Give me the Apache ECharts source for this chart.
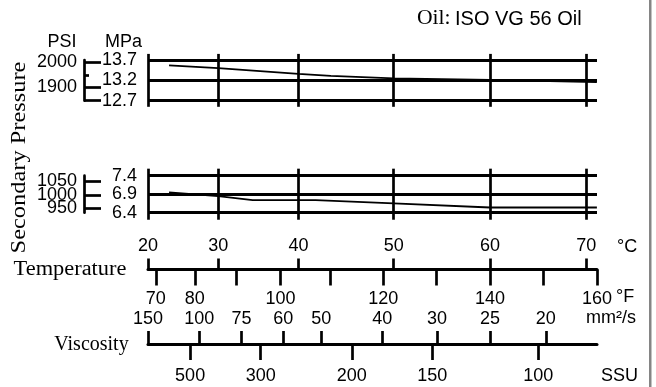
<!DOCTYPE html>
<html>
<head>
<meta charset="utf-8">
<script src="https://cdn.jsdelivr.net/npm/echarts@6/dist/echarts.min.js"></script>
<style>
html,body{margin:0;padding:0;background:#fff;}
#c{width:656px;height:387px;}
</style>
</head>
<body>
<div id="c"></div>
<script>
// ---------------- DATA ----------------
const celsiusTicks = [20, 30, 40, 50, 60, 70];
const fahrenheitTicks = [70, 80, 90, 100, 110, 120, 130, 140, 150, 160];
const fahrenheitLabels = [70, 80, 100, 120, 140, 160];
const viscosityMm2 = [150, 100, 75, 60, 50, 40, 30, 25, 20];
const viscosityMm2AtC = [20, 27.3, 32.9, 38.1, 42.4, 48.8, 54.5, 60, 65.8];
const viscositySSU = [500, 300, 200, 150, 100];
const viscositySSUAtC = [26.0, 35.3, 45.6, 54.0, 65.0];

const highTempC = [23, 30, 40, 43.4, 50, 60, 71.1];
const highMPa = [13.57, 13.50, 13.36, 13.31, 13.25, 13.21, 13.16];
const lowTempC = [23, 30, 34.3, 41.8, 50, 60, 71.1];
const lowMPa = [6.95, 6.85, 6.74, 6.74, 6.65, 6.54, 6.54];

const highMPaTicks = [12.7, 13.2, 13.7];
const lowMPaTicks = [6.4, 6.9, 7.4];
const highPsiTicks = [1850, 1900, 2000];
const highPsiMinor = [1950];
const highPsiLabels = [1900, 2000];
const lowPsiTicks = [950, 1000, 1050];
const lowPsiLabelsOuter = [950, 1050];
const lowPsiLabelsInner = [1000];

// printed temperature scale of the chart (non-linear): axis units for each °C tick
const celsiusScaleStops = [0, 70, 150, 245, 341, 437];

// ---------------- HELPERS ----------------
function toX(c) {
  const t = celsiusTicks, s = celsiusScaleStops;
  let i = 0;
  while (i < t.length - 2 && c > t[i + 1]) i++;
  return s[i] + (c - t[i]) * (s[i + 1] - s[i]) / (t[i + 1] - t[i]);
}
const f2c = f => (f - 32) / 1.8;
const xMin = toX(celsiusTicks[0]);
const xMax = toX(f2c(fahrenheitTicks[fahrenheitTicks.length - 1]));

function lookupFormatter(pairs) {
  return function (v) {
    let best = '', d = Infinity;
    pairs.forEach(p => { const dd = Math.abs(p[0] - v); if (dd < d) { d = dd; best = p[1]; } });
    return d < 1e-6 ? String(best) : '';
  };
}

const SANS = 'Liberation Sans, Arial, sans-serif';
const SERIF = 'Liberation Serif, Times New Roman, serif';
const FS = 18;

const cPos = celsiusTicks.map(toX);
const fPos = fahrenheitTicks.map(f => toX(f2c(f)));
const fLabPos = fahrenheitLabels.map(f => toX(f2c(f)));
const vPos = viscosityMm2AtC.map(toX);
const sPos = viscositySSUAtC.map(toX);

function frameLines(mpaTicks, extend) {
  const lo = mpaTicks[0], hi = mpaTicks[mpaTicks.length - 1];
  const data = [];
  mpaTicks.forEach(m => data.push({ coords: [[xMin, m], [xMax, m]], lineStyle: { width: 3 } }));
  cPos.forEach(x => data.push({ coords: [[x, hi + extend], [x, lo - extend]], lineStyle: { width: 2.7 } }));
  return data;
}

const hiddenX = (gi) => ({
  type: 'value', gridIndex: gi, min: xMin, max: xMax,
  axisLine: { show: false }, axisTick: { show: false }, axisLabel: { show: false }, splitLine: { show: false }
});
const hiddenY = (gi) => ({
  type: 'value', gridIndex: gi, min: 0, max: 1,
  axisLine: { show: false }, axisTick: { show: false }, axisLabel: { show: false }, splitLine: { show: false }
});

const labelStyle = { color: '#000', fontFamily: SANS, fontSize: FS, hideOverlap: false, showMinLabel: true, showMaxLabel: true };

const option = {
  animation: false,
  backgroundColor: '#fff',
  grid: [
    { left: 148, top: 60, width: 449, height: 40.7 },
    { left: 148, top: 175.7, width: 449, height: 37 },
    { left: 148, top: 268.5, width: 449, height: 1 },
    { left: 148, top: 343, width: 449, height: 1 }
  ],
  xAxis: [
    hiddenX(0),
    hiddenX(1),
    { // °C
      type: 'value', gridIndex: 2, position: 'top', min: xMin, max: xMax,
      axisLine: { show: true, lineStyle: { color: '#000', width: 3 } },
      axisTick: { show: true, inside: false, length: 11, customValues: cPos, lineStyle: { color: '#000', width: 2.7 } },
      axisLabel: { show: true, margin: 13, customValues: cPos, ...labelStyle,
        formatter: lookupFormatter(cPos.map((p, i) => [p, celsiusTicks[i]])) },
      splitLine: { show: false }
    },
    { // °F
      type: 'value', gridIndex: 2, position: 'bottom', min: xMin, max: xMax,
      axisLine: { show: false },
      axisTick: { show: true, inside: false, length: 16, customValues: fPos, lineStyle: { color: '#000', width: 2.7 } },
      axisLabel: { show: true, margin: 21, customValues: fLabPos, ...labelStyle,
        formatter: lookupFormatter(fLabPos.map((p, i) => [p, fahrenheitLabels[i]])) },
      splitLine: { show: false }
    },
    { // mm2/s
      type: 'value', gridIndex: 3, position: 'top', min: xMin, max: xMax,
      axisLine: { show: true, lineStyle: { color: '#000', width: 3 } },
      axisTick: { show: true, inside: false, length: 13, customValues: vPos, lineStyle: { color: '#000', width: 2.7 } },
      axisLabel: { show: true, margin: 15, customValues: vPos, ...labelStyle,
        formatter: lookupFormatter(vPos.map((p, i) => [p, viscosityMm2[i]])) },
      splitLine: { show: false }
    },
    { // SSU
      type: 'value', gridIndex: 3, position: 'bottom', min: xMin, max: xMax,
      axisLine: { show: false },
      axisTick: { show: true, inside: false, length: 16, customValues: sPos, lineStyle: { color: '#000', width: 2.7 } },
      axisLabel: { show: true, margin: 23, customValues: sPos, ...labelStyle,
        formatter: lookupFormatter(sPos.map((p, i) => [p, viscositySSU[i]])) },
      splitLine: { show: false }
    }
  ],
  yAxis: [
    { // 0 high MPa
      type: 'value', gridIndex: 0, min: 12.7, max: 13.7, position: 'left',
      axisLine: { show: false }, axisTick: { show: false }, splitLine: { show: false },
      axisLabel: { show: true, margin: 11, customValues: highMPaTicks, ...labelStyle, padding: [7, 0, 0, 0],
        formatter: v => v.toFixed(1) }
    },
    { // 1 high PSI
      type: 'value', gridIndex: 0, min: 1847, max: 2010, position: 'left', offset: 64,
      axisLine: { show: true, lineStyle: { color: '#000', width: 2.7 } },
      axisTick: { show: true, inside: true, length: 17, customValues: highPsiTicks, lineStyle: { color: '#000', width: 2.7 } },
      splitLine: { show: false },
      axisLabel: { show: true, margin: 7, customValues: highPsiLabels, ...labelStyle, padding: [4, 0, 0, 0],
        formatter: v => String(Math.round(v)) }
    },
    { // 2 high PSI minor
      type: 'value', gridIndex: 0, min: 1847, max: 2010, position: 'left', offset: 64,
      axisLine: { show: false },
      axisTick: { show: true, inside: true, length: 5, customValues: highPsiMinor, lineStyle: { color: '#000', width: 2.7 } },
      splitLine: { show: false }, axisLabel: { show: false }
    },
    { // 3 low MPa
      type: 'value', gridIndex: 1, min: 6.4, max: 7.4, position: 'left',
      axisLine: { show: false }, axisTick: { show: false }, splitLine: { show: false },
      axisLabel: { show: true, margin: 11, customValues: lowMPaTicks, ...labelStyle, padding: [8, 0, 0, 0],
        formatter: v => v.toFixed(1) }
    },
    { // 4 low PSI (line, ticks, outer labels)
      type: 'value', gridIndex: 1, min: 934.8, max: 1069.3, position: 'left', offset: 64,
      axisLine: { show: true, lineStyle: { color: '#000', width: 2.7 } },
      axisTick: { show: true, inside: true, length: 17, customValues: lowPsiTicks, lineStyle: { color: '#000', width: 2.7 } },
      splitLine: { show: false },
      axisLabel: { show: true, margin: 7, customValues: lowPsiLabelsOuter, ...labelStyle,
        formatter: v => String(Math.round(v)) }
    },
    { // 5 low PSI (middle label)
      type: 'value', gridIndex: 1, min: 934.8, max: 1069.3, position: 'left', offset: 64,
      axisLine: { show: false }, axisTick: { show: false }, splitLine: { show: false },
      axisLabel: { show: true, margin: 7, customValues: lowPsiLabelsInner, ...labelStyle, padding: [3, 0, 0, 0],
        formatter: v => String(Math.round(v)) }
    },
    hiddenY(2),
    hiddenY(3)
  ],
  series: [
    {
      type: 'lines', coordinateSystem: 'cartesian2d', xAxisIndex: 0, yAxisIndex: 0,
      clip: false, silent: true, polyline: false,
      lineStyle: { color: '#000', opacity: 1, curveness: 0 },
      data: frameLines(highMPaTicks, 0.15)
    },
    {
      type: 'lines', coordinateSystem: 'cartesian2d', xAxisIndex: 1, yAxisIndex: 3,
      clip: false, silent: true, polyline: false,
      lineStyle: { color: '#000', opacity: 1, curveness: 0 },
      data: frameLines(lowMPaTicks, 0.19)
    },
    {
      type: 'line', xAxisIndex: 0, yAxisIndex: 0, showSymbol: false, silent: true,
      lineStyle: { color: '#000', width: 1.8 },
      data: highTempC.map((c, i) => [toX(c), highMPa[i]])
    },
    {
      type: 'line', xAxisIndex: 1, yAxisIndex: 3, showSymbol: false, silent: true,
      lineStyle: { color: '#000', width: 1.8 },
      data: lowTempC.map((c, i) => [toX(c), lowMPa[i]])
    }
  ],
  graphic: [
    { type: 'rect', shape: { x: 649, y: 0, width: 2.5, height: 387 }, style: { fill: '#858585' }, silent: true },
    { type: 'text', x: 417, y: 19, scaleX: 1.08, style: { text: 'Oil:', font: '20px ' + SERIF, fill: '#000', verticalAlign: 'middle' } },
    { type: 'text', x: 455, y: 19, style: { text: 'ISO VG 56 Oil', font: '20px ' + SANS, fill: '#000', verticalAlign: 'middle' } },
    { type: 'text', x: 62, y: 42, style: { text: 'PSI', font: FS + 'px ' + SANS, fill: '#000', align: 'center', verticalAlign: 'middle' } },
    { type: 'text', x: 123.5, y: 42, style: { text: 'MPa', font: FS + 'px ' + SANS, fill: '#000', align: 'center', verticalAlign: 'middle' } },
    { type: 'text', x: 20, y: 157.5, rotation: Math.PI / 2, scaleX: 1.22,
      style: { text: 'Secondary Pressure', font: '20px ' + SERIF, fill: '#000', align: 'center', verticalAlign: 'middle' } },
    { type: 'text', x: 70, y: 270, scaleX: 1.12,
      style: { text: 'Temperature', font: '20px ' + SERIF, fill: '#000', align: 'center', verticalAlign: 'middle' } },
    { type: 'text', x: 91.5, y: 345,
      style: { text: 'Viscosity', font: '20px ' + SERIF, fill: '#000', align: 'center', verticalAlign: 'middle' } },
    { type: 'text', x: 617, y: 247, style: { text: '°C', font: FS + 'px ' + SANS, fill: '#000', verticalAlign: 'middle' } },
    { type: 'text', x: 616, y: 297, style: { text: '°F', font: FS + 'px ' + SANS, fill: '#000', verticalAlign: 'middle' } },
    { type: 'text', x: 611, y: 318, style: { text: 'mm²/s', font: FS + 'px ' + SANS, fill: '#000', align: 'center', verticalAlign: 'middle' } },
    { type: 'text', x: 601, y: 376, style: { text: 'SSU', font: FS + 'px ' + SANS, fill: '#000', verticalAlign: 'middle' } }
  ]
};

const chart = echarts.init(document.getElementById('c'), null, { renderer: 'canvas' });
chart.setOption(option);
</script>
</body>
</html>
